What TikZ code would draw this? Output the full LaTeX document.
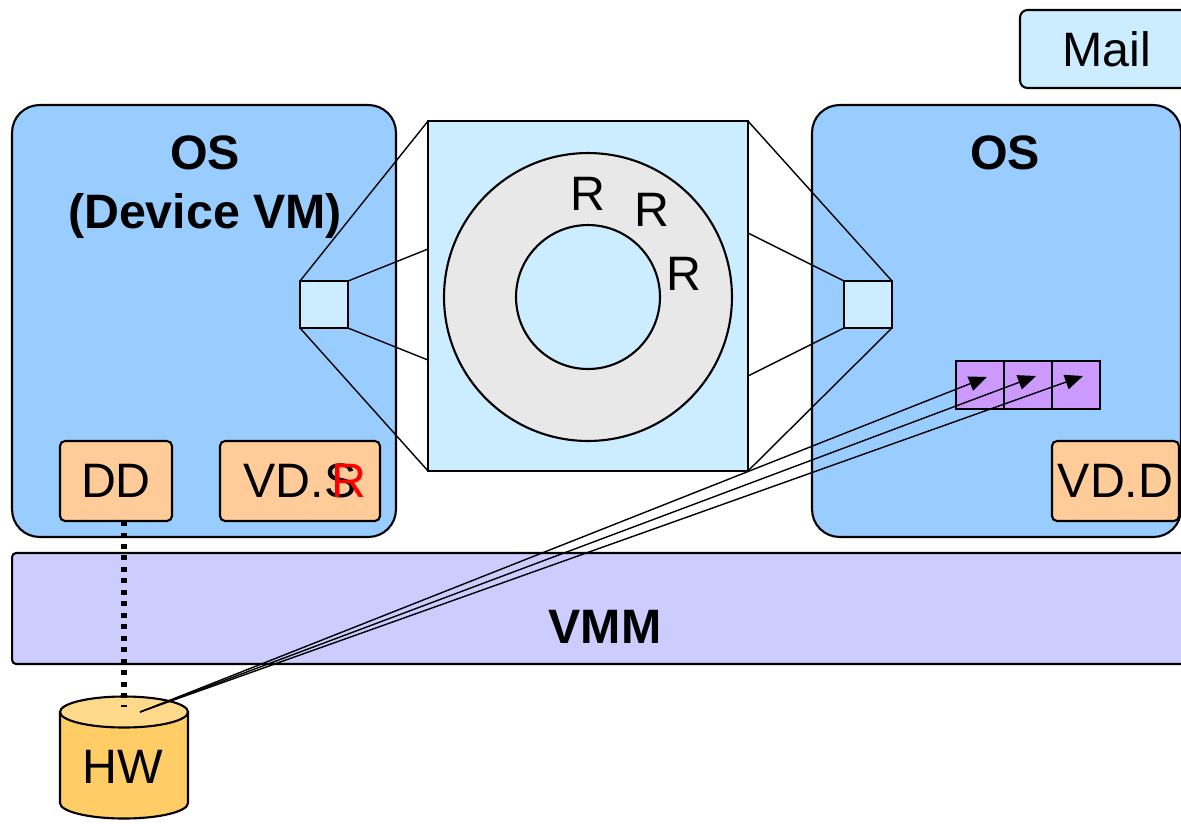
\documentclass[tikz,border=0pt]{standalone}
\usepackage{fontspec}
\setmainfont{Liberation Sans}
\usetikzlibrary{arrows.meta,calc}
\definecolor{osblue}{HTML}{99CCFF}
\definecolor{paleblue}{HTML}{CCECFF}
\definecolor{vmmblue}{HTML}{CCCCFF}
\definecolor{ddorange}{HTML}{FFCC99}
\definecolor{cellpurple}{HTML}{CC99FF}
\definecolor{hwyellow}{HTML}{FFCC66}
\definecolor{hwtopyellow}{HTML}{FFD98A}
\definecolor{ringgray}{HTML}{E8E8E8}

\begin{document}
\begin{tikzpicture}[x=0.02cm, y=-0.02cm,
    every node/.style={font=\fontsize{27.5}{33}\selectfont, inner sep=0pt, outer sep=0pt},
    bold/.style={font=\fontsize{27.5}{33}\selectfont\bfseries},
    osbox/.style={draw, line width=1.2pt, fill=osblue, rounded corners=0.55cm, minimum height=8.64cm},
    drvbox/.style={draw, line width=1.2pt, fill=ddorange, rounded corners=0.1cm, minimum height=1.6cm},
    portbox/.style={draw, line width=1.2pt, fill=paleblue, minimum width=0.96cm, minimum height=0.94cm},
    cell/.style={draw, line width=1.2pt, fill=cellpurple, minimum size=0.96cm},
    ringline/.style={draw, circle, line width=1.2pt},
    thinline/.style={line width=0.8pt},
    feed/.style={line width=0.8pt, -{Triangle[length=0.36cm, width=0.3cm]}},
    dotline/.style={line width=0.11cm, dash pattern=on 0.1cm off 0.13cm}]
    \useasboundingbox (0,0) rectangle (1181,823);
    \clip (0,0) rectangle (1181,823);

    \node[draw, line width=1.2pt, fill=paleblue, rounded corners=0.15cm, minimum width=3.48cm, minimum height=1.56cm] (mail) at (1107,49) {Mail};

    \node[osbox, minimum width=7.68cm] (devos) at (204,321) {};
    \node[osbox, minimum width=7.38cm] (guestos) at (996.5,321) {};
    \node[bold] (devostitle) at (205,153) {OS};
    \node[bold, anchor=base] (devvm) at (205,228) {(Device VM)};
    \node[bold] (guestostitle) at (1005,153) {OS};

    \node[drvbox, minimum width=2.24cm] (dd) at (116,481) {DD};
    \node[drvbox, minimum width=3.2cm] (vds) at (300,481) {VD.S};
    \node[text=red] (vdsr) at (349,481) {R};
    \node[drvbox, minimum width=2.54cm] (vdd) at (1115.5,481) {VD.D};

    \node[portbox] (portl) at (324,304.5) {};
    \node[portbox] (portr) at (868,304.5) {};
    \node[draw, line width=1.2pt, fill=paleblue, minimum width=6.4cm, minimum height=7cm] (ringbox) at (588,296) {};
    \coordinate (zl1) at (428,249);
    \coordinate (zl2) at (428,360);
    \coordinate (zr1) at (748,233);
    \coordinate (zr2) at (748,376);
    \draw[thinline] (portl.north west) -- (ringbox.north west);
    \draw[thinline] (portl.south west) -- (ringbox.south west);
    \draw[thinline] (portl.north east) -- (zl1);
    \draw[thinline] (portl.south east) -- (zl2);
    \draw[thinline] (portr.north east) -- (ringbox.north east);
    \draw[thinline] (portr.south east) -- (ringbox.south east);
    \draw[thinline] (portr.north west) -- (zr1);
    \draw[thinline] (portr.south west) -- (zr2);

    \node[ringline, fill=ringgray, minimum size=5.76cm] (ring) at (588,297) {};
    \node[ringline, fill=paleblue, minimum size=2.88cm] (hole) at (588,297) {};
    \node (ra) at (588,194) {R};
    \node (rb) at (652,210) {R};
    \node (rc) at (684,274) {R};

    \node[cell] (cella) at (980,385) {};
    \node[cell] (cellb) at (1028,385) {};
    \node[cell] (cellc) at (1076,385) {};

    \node[draw, line width=1.2pt, fill=vmmblue, rounded corners=0.08cm, minimum width=23.66cm, minimum height=2.22cm] (vmm) at (603.5,608.5) {};
    \node[bold] (vmmlabel) at (605,627) {VMM};

    \draw[line width=1.2pt, fill=hwyellow] (60,712) -- (60,803) arc[start angle=180, end angle=360, x radius=1.28cm, y radius=0.31cm] -- (188,712) -- cycle;
    \draw[line width=1.2pt, fill=hwtopyellow] (124,712) ellipse [x radius=1.28cm, y radius=0.31cm];
    \node (hw) at (123,767) {HW};
    \coordinate (hwtop) at (140,712);
    \coordinate (hwdot) at (124,707);

    \draw[dotline] (dd.south -| hwdot) -- (hwdot);
    \draw[feed] (hwtop) -- ($(cella.center)+(7,-8)$);
    \draw[feed] (hwtop) -- ($(cellb.center)+(8,-9)$);
    \draw[feed] (hwtop) -- ($(cellc.center)+(7,-9)$);
\end{tikzpicture}
\end{document}
